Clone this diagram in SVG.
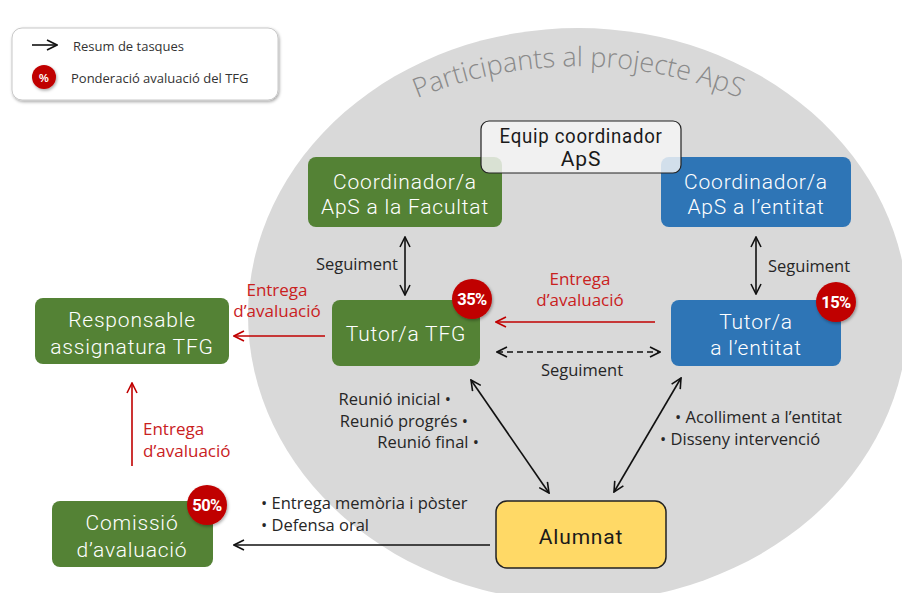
<svg xmlns="http://www.w3.org/2000/svg" width="902" height="593" viewBox="0 0 902 593">
  <defs>
    <style>
      .lbl { font-family: "Open Sans", "Noto Sans", sans-serif; font-size: 16.5px; fill: #262626; }
      .red { font-family: "Open Sans", "Noto Sans", sans-serif; font-size: 17px; fill: #c9211e; }
      .node { font-family: Roboto, "Liberation Sans", sans-serif; font-size: 21px; font-weight: 300; fill: #ffffff; text-anchor: middle; letter-spacing: 0.8px; }
      .dark { fill: #1a1a1a; font-weight: 400; }
      .badge { font-family: Roboto, "Liberation Sans", sans-serif; font-size: 16.5px; font-weight: bold; fill: #ffffff; text-anchor: middle; letter-spacing: -0.5px; }
      .green { fill: #548235; }
      .blue { fill: #2e75b6; }
      .conn { stroke: #111111; stroke-width: 1.6; fill: none; }
      .rconn { stroke: #c00000; stroke-width: 1.6; fill: none; }
    </style>
    <marker id="ah" viewBox="0 0 12 12" markerWidth="12" markerHeight="12" refX="11" refY="6" orient="auto-start-reverse" markerUnits="userSpaceOnUse">
      <path d="M1,1 L11,6 L1,11" fill="none" stroke="#111111" stroke-width="1.6"/>
    </marker>
    <marker id="rah" viewBox="0 0 12 12" markerWidth="12" markerHeight="12" refX="11" refY="6" orient="auto-start-reverse" markerUnits="userSpaceOnUse">
      <path d="M1,1 L11,6 L1,11" fill="none" stroke="#c00000" stroke-width="1.6"/>
    </marker>
    <filter id="shadow" x="-30%" y="-30%" width="160%" height="160%">
      <feDropShadow dx="1" dy="1.5" stdDeviation="1.5" flood-color="#000000" flood-opacity="0.35"/>
    </filter>
    <path id="arcTitle" d="M395,108 A425,425 0 0 1 762,108"/>
  </defs>

  <rect width="902" height="593" fill="#ffffff"/>

  <!-- participants area -->
  <g id="participants">
    <ellipse cx="578" cy="315" rx="330" ry="287" fill="#d9d9d9"/>
    <text font-family="'Open Sans', 'Noto Sans', sans-serif" font-weight="300" font-size="27" fill="#8a8a8a" text-anchor="middle">
      <textPath href="#arcTitle" startOffset="50%">Participants al projecte ApS</textPath>
    </text>
  </g>

  <!-- legend -->
  <g id="legend">
    <rect x="12" y="28" width="266" height="72" rx="10" fill="#ffffff" stroke="#c8c8c8" stroke-width="1" filter="url(#shadow)"/>
    <line x1="32" y1="45" x2="57" y2="45" class="conn" marker-end="url(#ah)"/>
    <text x="73" y="51" font-family="'Open Sans', 'Noto Sans', sans-serif" font-size="13" fill="#333333">Resum de tasques</text>
    <circle cx="44" cy="77" r="12" fill="#c00000" filter="url(#shadow)"/>
    <text x="44" y="81.5" font-family="'Liberation Sans', sans-serif" font-size="11" font-weight="bold" fill="#ffffff" text-anchor="middle">%</text>
    <text x="71" y="83" font-family="'Open Sans', 'Noto Sans', sans-serif" font-size="13" fill="#333333">Ponderació avaluació del TFG</text>
  </g>

  <!-- coordinators -->
  <g id="coord-facultat">
    <rect x="308" y="157" width="194" height="70" rx="8" class="green"/>
    <text x="405" y="189" class="node">Coordinador/a</text>
    <text x="405" y="214" class="node">ApS a la Facultat</text>
  </g>
  <g id="coord-entitat">
    <rect x="661" y="157" width="190" height="70" rx="8" class="blue"/>
    <text x="756" y="189" class="node">Coordinador/a</text>
    <text x="756" y="214" class="node">ApS a l’entitat</text>
  </g>
  <g id="equip-coordinador">
    <rect x="481" y="121" width="200" height="52" rx="8" fill="#f7f7f7" fill-opacity="0.82" stroke="#222222" stroke-width="1.2"/>
    <text x="581" y="143" class="node dark" font-size="17.5" letter-spacing="0" textLength="163" lengthAdjust="spacingAndGlyphs">Equip coordinador</text>
    <text x="581" y="166" class="node dark" font-size="17.5" letter-spacing="0">ApS</text>
  </g>

  <!-- tutors -->
  <g id="tutor-tfg">
    <rect x="332" y="300" width="148" height="66" rx="8" class="green"/>
    <text x="406" y="341" class="node">Tutor/a TFG</text>
    <circle cx="472" cy="299" r="20" fill="#c00000" filter="url(#shadow)"/>
    <text x="472" y="305" class="badge">35%</text>
  </g>
  <g id="tutor-entitat">
    <rect x="671" y="300" width="170" height="66" rx="8" class="blue"/>
    <text x="756" y="329" class="node">Tutor/a</text>
    <text x="756" y="355" class="node">a l’entitat</text>
    <circle cx="836" cy="302" r="20" fill="#c00000" filter="url(#shadow)"/>
    <text x="836" y="308" class="badge">15%</text>
  </g>

  <!-- outside the project -->
  <g id="responsable">
    <rect x="35" y="298" width="194" height="66" rx="8" class="green"/>
    <text x="132" y="327" class="node">Responsable</text>
    <text x="132" y="354" class="node">assignatura  TFG</text>
  </g>
  <g id="comissio">
    <rect x="52" y="501" width="161" height="66" rx="8" class="green"/>
    <text x="132" y="530" class="node">Comissió</text>
    <text x="132" y="557" class="node">d’avaluació</text>
    <circle cx="207" cy="505" r="20" fill="#c00000" filter="url(#shadow)"/>
    <text x="207" y="511" class="badge">50%</text>
  </g>

  <!-- student -->
  <g id="alumnat">
    <rect x="496" y="501" width="170" height="67" rx="11" fill="#ffd966" stroke="#222222" stroke-width="1.5"/>
    <text x="581" y="544" class="node dark">Alumnat</text>
  </g>

  <!-- connectors -->
  <g id="connectors">
    <line x1="405" y1="237" x2="405" y2="295" class="conn" marker-start="url(#ah)" marker-end="url(#ah)"/>
    <line x1="756" y1="237" x2="756" y2="294" class="conn" marker-start="url(#ah)" marker-end="url(#ah)"/>
    <line x1="497" y1="352" x2="660" y2="352" class="conn" stroke-dasharray="6,4" marker-start="url(#ah)" marker-end="url(#ah)"/>
    <line x1="655" y1="322" x2="496" y2="322" class="rconn" marker-end="url(#rah)"/>
    <line x1="325" y1="336" x2="234" y2="336" class="rconn" marker-end="url(#rah)"/>
    <line x1="132" y1="466" x2="132" y2="383" class="rconn" marker-end="url(#rah)"/>
    <line x1="471" y1="380" x2="549" y2="493" class="conn" marker-start="url(#ah)" marker-end="url(#ah)"/>
    <line x1="681" y1="378" x2="614" y2="492" class="conn" marker-start="url(#ah)" marker-end="url(#ah)"/>
    <line x1="490" y1="545" x2="234" y2="545" class="conn" marker-end="url(#ah)"/>

    <text x="398" y="270" class="lbl" text-anchor="end">Seguiment</text>
    <text x="768" y="272" class="lbl">Seguiment</text>
    <text x="582" y="376" class="lbl" text-anchor="middle">Seguiment</text>

    <text x="580" y="285" class="red" text-anchor="middle">Entrega</text>
    <text x="580" y="306" class="red" text-anchor="middle">d’avaluació</text>
    <text x="277" y="296" class="red" text-anchor="middle">Entrega</text>
    <text x="277" y="317" class="red" text-anchor="middle">d’avaluació</text>
    <text x="143" y="435" class="red">Entrega</text>
    <text x="143" y="457" class="red">d’avaluació</text>

    <text x="451" y="405" class="lbl" text-anchor="end">Reunió inicial •</text>
    <text x="468" y="427" class="lbl" text-anchor="end">Reunió progrés •</text>
    <text x="479" y="448" class="lbl" text-anchor="end">Reunió final •</text>

    <text x="675" y="423" class="lbl">• Acolliment a l’entitat</text>
    <text x="660" y="445" class="lbl">• Disseny intervenció</text>

    <text x="261" y="509" class="lbl">• Entrega memòria i pòster</text>
    <text x="261" y="531" class="lbl">• Defensa oral</text>
  </g>
</svg>
